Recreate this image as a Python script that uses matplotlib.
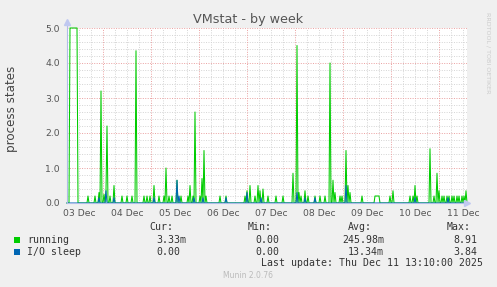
import numpy as np
import matplotlib
matplotlib.use('Agg')
import matplotlib.pyplot as plt

# ---- data (hours since 03 Dec 00:00, 30-minute samples; unlisted samples are 0) ----
running_hours = [7.5, 8.0, 8.5, 9.0, 9.5, 10.0, 10.5, 11.0,
                 16.5, 20.0, 22.0, 23.0, 24.5, 25.5, 26.0, 27.5, 29.5, 33.5, 36.0, 38.5,
                 40.5, 44.5, 46.0, 47.5, 49.5, 52.0, 54.5, 55.5, 57.0, 58.5, 61.0, 63.0,
                 66.5, 67.5, 69.0, 70.0, 72.5, 73.5, 74.5, 75.5, 82.5, 85.5, 95.0, 96.0,
                 97.5, 100.0, 101.5, 102.5, 104.0, 106.5, 110.5, 114.0, 119.0, 121.0,
                 122.0, 123.0, 125.0, 126.5, 130.0, 132.5, 135.0, 137.5, 139.0, 140.0,
                 142.5, 143.5, 145.5, 146.5, 147.5, 153.5, 160.0, 160.5, 161.0, 161.5,
                 162.0, 167.5, 169.0, 177.5, 179.0, 180.0, 181.0, 187.5, 189.5,
                 191.0, 192.0, 193.5, 194.5, 196.0, 197.0, 198.5, 199.5, 201.0, 202.0,
                 203.5, 204.5, 205.5]
running_vals = [8.91, 7.2, 6.5, 7.8, 6.9, 7.4, 6.1, 7.0,
                0.2, 0.2, 0.3, 3.2, 0.25, 0.35, 2.2, 0.2, 0.5, 0.2, 0.2, 0.2,
                4.35, 0.2, 0.2, 0.2, 0.5, 0.2, 0.2, 1.0, 0.2, 0.2, 0.65, 0.2,
                0.2, 0.5, 0.2, 2.6, 0.2, 0.7, 1.5, 0.2, 0.2, 0.2, 0.2, 0.35,
                0.5, 0.2, 0.5, 0.35, 0.4, 0.2, 0.2, 0.2, 0.85, 4.5,
                0.3, 0.2, 0.35, 0.2, 0.2, 0.2, 0.2, 4.0, 0.65, 0.3,
                0.2, 0.2, 1.5, 0.5, 0.3, 0.2, 0.2, 0.2, 0.2, 0.2,
                0.2, 0.2, 0.35, 0.2, 0.2, 0.5, 0.2, 1.55, 0.2,
                0.85, 0.35, 0.2, 0.2, 0.2, 0.2, 0.2, 0.2, 0.2, 0.2,
                0.2, 0.2, 0.35]
iosleep_hours = [22.0, 25.5, 29.5, 49.5, 61.0, 62.0, 69.5, 74.0, 85.5, 96.0,
                 103.0, 121.0, 125.0, 130.0, 145.5, 180.0, 196.5]
iosleep_vals = [0.15, 0.35, 0.15, 0.15, 0.65, 0.2, 0.15, 0.15, 0.15, 0.3,
                0.15, 0.3, 0.15, 0.15, 0.5, 0.15, 0.15]
day_labels = ['03 Dec', '04 Dec', '05 Dec', '06 Dec', '07 Dec',
              '08 Dec', '09 Dec', '10 Dec', '11 Dec']
legend_names = ['running', 'I/O sleep']
legend_colors = ['#00CC00', '#0066B3']
cur_vals = ['3.33m', '0.00']
min_vals = ['0.00', '0.00']
avg_vals = ['245.98m', '13.34m']
max_vals = ['8.91', '3.84']

t_start, t_end = 6.0, 206.0
t = np.arange(t_start, t_end + 0.001, 0.5)

def build(hours, vals):
    s = np.zeros_like(t)
    for h, v in zip(hours, vals):
        s[int(round((h - t_start) / 0.5))] = v
    return s

running = build(running_hours, running_vals)
iosleep = build(iosleep_hours, iosleep_vals)

W, H = 497, 287
fig = plt.figure(figsize=(W / 100, H / 100), dpi=100)
fig.patch.set_facecolor('#F0F0F0')
ax = fig.add_axes([67 / W, 1 - 203 / H, 400 / W, 175 / H])
ax.set_facecolor('white')

ymax = 5.0
ax.set_xlim(t_start, t_end)
ax.set_ylim(0, ymax)

# grid
for y in np.arange(0.2, ymax + 0.01, 0.2):
    if abs(y - round(y)) > 1e-6:
        ax.axhline(y, color='#d4d4d4', lw=0.7, ls=(0, (1, 1.5)), zorder=1)
for x in np.arange(6, t_end, 6):
    if x % 24 != 0:
        ax.axvline(x, color='#d4d4d4', lw=0.7, ls=(0, (1, 1.5)), zorder=1)
for y in np.arange(1, ymax + 0.01, 1):
    ax.axhline(y, color='#eaa0a0', lw=0.7, ls=(0, (1, 1.5)), zorder=1.5)
for x in np.arange(24, t_end, 24):
    ax.axvline(x, color='#eaa0a0', lw=0.7, ls=(0, (1, 1.5)), zorder=1.5)

lw = 0.75
ax.plot(t, np.clip(running, 0, ymax), color=legend_colors[0], lw=lw, zorder=3,
        clip_on=False)
ax.plot(t, np.clip(iosleep, 0, ymax), color=legend_colors[1], lw=lw, zorder=4,
        clip_on=False)

for sp in ['top', 'right']:
    ax.spines[sp].set_visible(False)
for sp in ['left', 'bottom']:
    ax.spines[sp].set_color('#b0bce8')
    ax.spines[sp].set_linewidth(0.8)
    ax.spines[sp].set_zorder(6)
ax.spines['left'].set_bounds(0, ymax * 1.03)
ax.plot([1.0], [0], marker='>', color='#c0c8f0', ms=4, transform=ax.transAxes,
        clip_on=False, zorder=7)
ax.plot([0], [1.035], marker='^', color='#c0c8f0', ms=4, transform=ax.transAxes,
        clip_on=False, zorder=7)

ax.set_yticks(np.arange(0, ymax + 0.01, 1.0))
ax.set_yticklabels(['%.1f' % v for v in np.arange(0, ymax + 0.01, 1.0)])
ax.set_xticks([12 + 24 * i for i in range(len(day_labels))])
ax.set_xticklabels(day_labels)
ax.tick_params(axis='both', length=0, labelsize=6.7, labelcolor='#555555')
ax.tick_params(axis='y', pad=5)
ax.tick_params(axis='x', pad=4)

def fx(x):
    return x / W

def fy(y):
    return 1 - y / H

fig.text(fx(248), fy(19), 'VMstat - by week', ha='center', va='center',
         fontsize=9.2, color='#555555')
fig.text(fx(12), fy(109), 'process states', ha='center', va='center',
         rotation=90, fontsize=8.6, color='#444444')
fig.text(fx(488), fy(53), 'RRDTOOL / TOBI OETIKER', ha='center', va='center',
         rotation=270, fontsize=4.6, color='#cccccc')

mono = dict(family='DejaVu Sans Mono', fontsize=7.1, color='#333333', va='center')
fig.text(fx(149), fy(227), 'Cur:', ha='left', **mono)
fig.text(fx(248), fy(227), 'Min:', ha='left', **mono)
fig.text(fx(348), fy(227), 'Avg:', ha='left', **mono)
fig.text(fx(447), fy(227), 'Max:', ha='left', **mono)
rows_y = [240, 252]
for i in range(2):
    y = rows_y[i]
    fig.patches.append(plt.Rectangle((fx(14), fy(y + 3)), 6 / W, 6 / H,
                                     transform=fig.transFigure,
                                     facecolor=legend_colors[i], edgecolor='none'))
    fig.text(fx(27), fy(y), legend_names[i], ha='left', **mono)
    fig.text(fx(156), fy(y), cur_vals[i], ha='left', **mono)
    fig.text(fx(255), fy(y), min_vals[i], ha='left', **mono)
    fig.text(fx(384), fy(y), avg_vals[i], ha='right', **mono)
    fig.text(fx(453), fy(y), max_vals[i], ha='left', **mono)
fig.text(fx(483), fy(263), 'Last update: Thu Dec 11 13:10:00 2025', ha='right', **mono)
fig.text(fx(248), fy(276), 'Munin 2.0.76', ha='center', va='center',
         fontsize=5.5, color='#bbbbbb')

fig.savefig('out.png', dpi=100, facecolor=fig.get_facecolor())
